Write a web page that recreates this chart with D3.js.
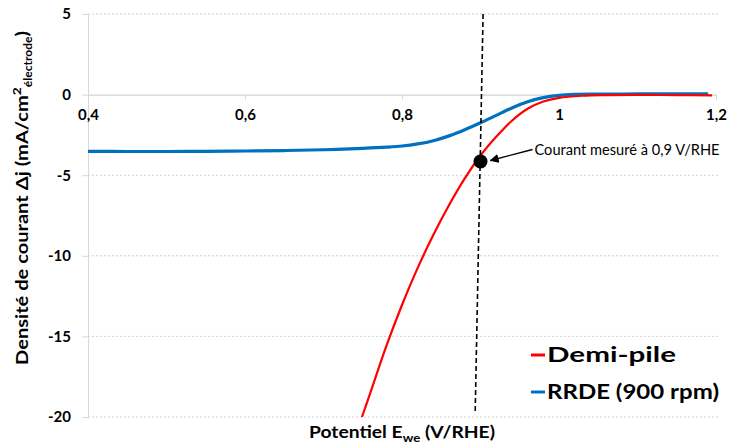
<!DOCTYPE html>
<html>
<head>
<meta charset="utf-8">
<script src="https://cdn.jsdelivr.net/npm/d3@7"></script>
<style>
  html, body { margin: 0; padding: 0; background: #fff; }
  svg { display: block; font-family: Lato, "Open Sans", sans-serif; }
</style>
</head>
<body>
<svg id="chart" width="731" height="445"></svg>
<script>
// ---- data ----
const xTicks = [0.4, 0.6, 0.8, 1.0, 1.2];
const xTickLabels = ["0,4", "0,6", "0,8", "1", "1,2"];
const yTicks = [5, 0, -5, -10, -15, -20];
const yTickLabels = ["5", "0", "-5", "-10", "-15", "-20"];

const rrdeE = [0.40, 0.45, 0.50, 0.55, 0.60, 0.65, 0.70, 0.75, 0.78, 0.80, 0.82, 0.84, 0.86, 0.88, 0.90, 0.92, 0.94, 0.96, 0.98, 1.00, 1.02, 1.05, 1.10, 1.15, 1.19];
const rrdeJ = [-3.52, -3.53, -3.53, -3.52, -3.50, -3.47, -3.42, -3.33, -3.26, -3.19, -3.06, -2.86, -2.56, -2.18, -1.75, -1.29, -0.83, -0.45, -0.19, -0.05, 0.01, 0.03, 0.04, 0.04, 0.04];

const demiE = [0.749, 0.76, 0.78, 0.80, 0.82, 0.84, 0.86, 0.88, 0.90, 0.92, 0.94, 0.96, 0.98, 1.00, 1.03, 1.06, 1.10, 1.15, 1.195];
const demiJ = [-20, -18.45, -15.6, -13.05, -10.75, -8.7, -6.85, -5.2, -3.78, -2.62, -1.62, -0.88, -0.43, -0.2, -0.07, -0.03, -0.02, -0.03, -0.05];

const guideE = [0.9033, 0.8932];
const guideJ = [5.0, -19.8];

const pointE = [0.9];
const pointJ = [-4.15];

const seriesNames = ["Demi-pile", "RRDE (900 rpm)"];
const seriesColors = ["#ff0000", "#0070c0"];
const annotationText = "Courant mesuré à 0,9 V/RHE";

// ---- drawing ----
const svg = d3.select("#chart");
const x = d3.scaleLinear().domain([0.4, 1.2]).range([88, 716]);
const y = d3.scaleLinear().domain([-20, 5]).range([417, 14]);

// horizontal dotted gridlines
svg.append("g").selectAll("line")
  .data(yTicks.filter(d => d !== 0))
  .join("line")
  .attr("x1", x(0.4)).attr("x2", x(1.2) + 2)
  .attr("y1", d => y(d)).attr("y2", d => y(d))
  .attr("stroke", "#d0d0d0").attr("stroke-width", 1)
  .attr("stroke-dasharray", "2,2");

// y axis
const yAxis = d3.axisLeft(y).tickValues(yTicks).tickSize(6).tickPadding(11)
  .tickFormat((d, i) => yTickLabels[i]);
const gy = svg.append("g").attr("transform", `translate(${x(0.4)},0)`).call(yAxis);
gy.select(".domain").attr("stroke", "#d9d9d9");
gy.selectAll(".tick line").attr("stroke", "#d9d9d9");
gy.selectAll(".tick text").attr("font-size", 15).attr("font-weight", "bold")
  .attr("fill", "#000").attr("font-family", "Lato, sans-serif");

// x axis at j = 0
const xAxis = d3.axisBottom(x).tickValues(xTicks).tickSize(5).tickPadding(10)
  .tickFormat((d, i) => xTickLabels[i]);
const gx = svg.append("g").attr("transform", `translate(0,${y(0)})`).call(xAxis);
gx.select(".domain").attr("stroke", "#c8c8c8");
gx.selectAll(".tick line").attr("stroke", "#d9d9d9");
gx.selectAll(".tick text").attr("font-size", 15).attr("font-weight", "bold")
  .attr("fill", "#000").attr("font-family", "Lato, sans-serif");

const line = d3.line().x(d => x(d[0])).y(d => y(d[1])).curve(d3.curveCatmullRom.alpha(0.5));

// RRDE (blue)
svg.append("path")
  .datum(rrdeE.map((e, i) => [e, rrdeJ[i]]))
  .attr("d", line).attr("fill", "none")
  .attr("stroke", seriesColors[1]).attr("stroke-width", 3.2);

// Demi-pile (red)
svg.append("path")
  .datum(demiE.map((e, i) => [e, demiJ[i]]))
  .attr("d", line).attr("fill", "none")
  .attr("stroke", seriesColors[0]).attr("stroke-width", 2.2);

// dashed guide line
svg.append("line")
  .attr("x1", x(guideE[0])).attr("y1", y(guideJ[0]))
  .attr("x2", x(guideE[1])).attr("y2", y(guideJ[1]))
  .attr("stroke", "#000").attr("stroke-width", 1.6)
  .attr("stroke-dasharray", "5,3");

// measured point
svg.append("g").selectAll("circle")
  .data(pointE.map((e, i) => [e, pointJ[i]]))
  .join("circle")
  .attr("cx", d => x(d[0])).attr("cy", d => y(d[1]))
  .attr("r", 7).attr("fill", "#000");

// annotation arrow
const defs = svg.append("defs");
defs.append("marker").attr("id", "arrow")
  .attr("viewBox", "0 0 10 10").attr("refX", 9).attr("refY", 5)
  .attr("markerWidth", 7).attr("markerHeight", 7).attr("orient", "auto")
  .append("path").attr("d", "M0,0 L10,5 L0,10 z").attr("fill", "#000");

const px = x(pointE[0]), py = y(pointJ[0]);
svg.append("line")
  .attr("x1", px + 52).attr("y1", py - 12)
  .attr("x2", px + 10).attr("y2", py - 1)
  .attr("stroke", "#000").attr("stroke-width", 1.3)
  .attr("marker-end", "url(#arrow)");

svg.append("text")
  .attr("x", px + 54).attr("y", py - 6.5)
  .attr("font-size", 14.5).attr("fill", "#000")
  .attr("textLength", 185).attr("lengthAdjust", "spacingAndGlyphs")
  .text(annotationText);

// y axis title
const yt = svg.append("text")
  .attr("transform", "translate(28,198) rotate(-90)")
  .attr("text-anchor", "middle")
  .attr("textLength", 334).attr("lengthAdjust", "spacingAndGlyphs")
  .attr("font-size", 17.5).attr("font-weight", "bold").attr("fill", "#000");
yt.append("tspan").text("Densité de courant Δj (mA/cm");
yt.append("tspan").attr("font-size", 12).attr("dy", -7).text("2");
yt.append("tspan").attr("font-size", 10.5).attr("dy", 11).text("électrode");
yt.append("tspan").attr("dy", -4).text(")");

// x axis title
const xt = svg.append("text")
  .attr("x", 402).attr("y", 438)
  .attr("text-anchor", "middle")
  .attr("textLength", 186).attr("lengthAdjust", "spacingAndGlyphs")
  .attr("font-size", 17.5).attr("font-weight", "bold").attr("fill", "#000");
xt.append("tspan").text("Potentiel E");
xt.append("tspan").attr("font-size", 12).attr("dy", 4).text("we");
xt.append("tspan").attr("dy", -4).text(" (V/RHE)");

// legend
const legendWidths = [129, 172];
const lg = svg.append("g");
[0, 1].forEach(i => {
  const ly = 355 + i * 37;
  lg.append("line").attr("x1", 531).attr("x2", 545).attr("y1", ly).attr("y2", ly)
    .attr("stroke", seriesColors[i]).attr("stroke-width", 3);
  lg.append("text").attr("x", 547).attr("y", ly + 7)
    .attr("font-size", 21.5).attr("font-weight", "bold").attr("fill", "#000")
    .attr("textLength", legendWidths[i]).attr("lengthAdjust", "spacingAndGlyphs")
    .text(seriesNames[i]);
});
</script>
</body>
</html>
